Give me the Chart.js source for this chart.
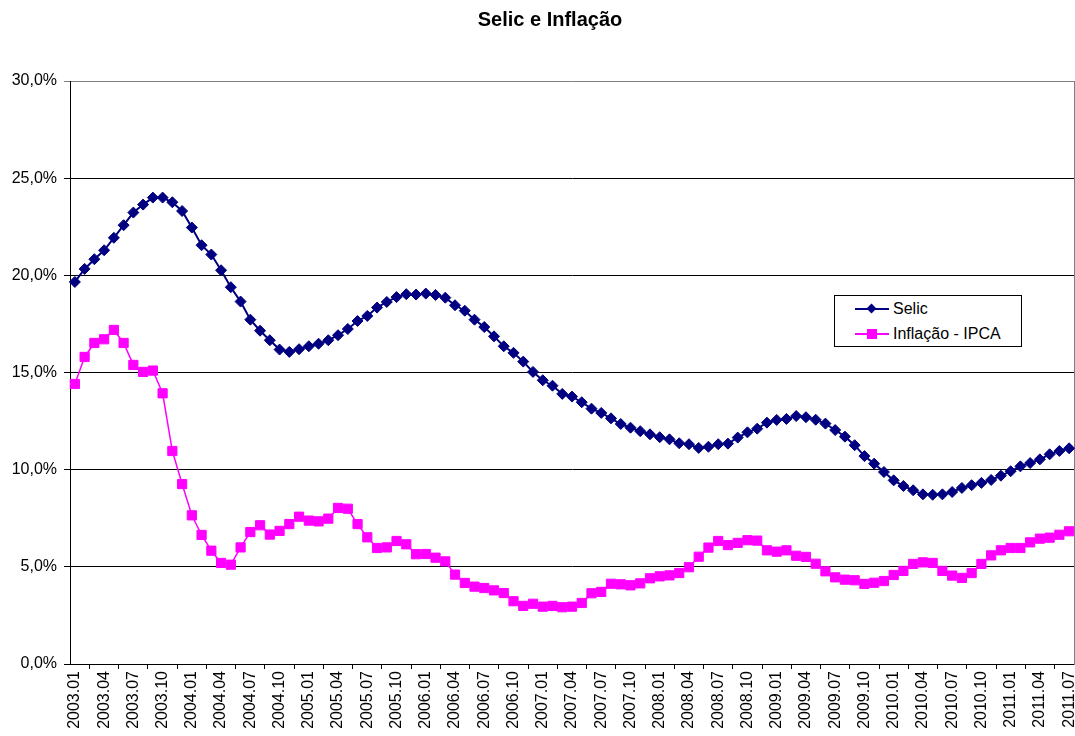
<!DOCTYPE html>
<html>
<head>
<meta charset="utf-8">
<script src="https://cdn.jsdelivr.net/npm/chart.js@4/dist/chart.umd.min.js"></script>
<style>
  html, body { margin: 0; padding: 0; background: #fff; }
  #wrap { position: relative; width: 1075px; height: 736px; overflow: hidden; }
  #c { position: absolute; left: 0; top: 0; }
  #legend {
    position: absolute; left: 834px; top: 295px; width: 186px; height: 50px;
    border: 1px solid #000; background: #fff;
    font-family: "Liberation Sans", Arial, sans-serif; font-size: 16px; color: #000;
  }
  .item { position: absolute; left: 20px; height: 20px; }
  .line { position: absolute; left: 0; width: 34px; top: 9px; height: 2px; }
  .mark { position: absolute; }
  .txt { position: absolute; left: 38px; top: 1px; white-space: nowrap; line-height: 18px; }
</style>
</head>
<body>
<div id="wrap">
  <canvas id="c" width="1085" height="736"></canvas>
  <div id="legend"></div>
</div>
<script>
const startYear = 2003;
const startMonth = 1;
const selic = [
  19.66, 20.33, 20.83, 21.29, 21.93, 22.58, 23.23, 23.64, 24.00, 24.00, 23.76, 23.31,
  22.46, 21.55, 21.07, 20.26, 19.39, 18.65, 17.72, 17.15, 16.66, 16.18, 16.06, 16.20,
  16.35, 16.48, 16.66, 16.92, 17.24, 17.65, 17.91, 18.34, 18.63, 18.88, 19.03, 19.01,
  19.06, 18.99, 18.85, 18.46, 18.18, 17.72, 17.34, 16.86, 16.35, 16.01, 15.56, 15.03,
  14.60, 14.32, 13.90, 13.76, 13.47, 13.14, 12.92, 12.64, 12.35, 12.16, 11.98, 11.82,
  11.67, 11.56, 11.36, 11.31, 11.12, 11.18, 11.31, 11.34, 11.65, 11.92, 12.11, 12.42,
  12.56, 12.61, 12.76, 12.70, 12.57, 12.37, 12.04, 11.70, 11.26, 10.70, 10.31, 9.88,
  9.45, 9.16, 8.94, 8.73, 8.71, 8.73, 8.85, 9.06, 9.20, 9.32, 9.47, 9.69,
  9.92, 10.17, 10.34, 10.53, 10.79, 10.96, 11.10
];
const ipca = [
  14.41, 15.80, 16.52, 16.71, 17.19, 16.52, 15.39, 15.03, 15.10, 13.93, 10.96, 9.26,
  7.65, 6.64, 5.83, 5.20, 5.11, 6.00, 6.79, 7.14, 6.66, 6.85, 7.20, 7.58,
  7.38, 7.34, 7.48, 8.03, 7.99, 7.20, 6.52, 5.97, 6.00, 6.33, 6.16, 5.65,
  5.66, 5.47, 5.28, 4.60, 4.17, 3.98, 3.91, 3.79, 3.65, 3.23, 2.99, 3.10,
  2.95, 2.99, 2.92, 2.95, 3.14, 3.64, 3.71, 4.13, 4.10, 4.05, 4.15, 4.41,
  4.51, 4.56, 4.68, 4.98, 5.52, 5.99, 6.33, 6.12, 6.23, 6.37, 6.35, 5.85,
  5.78, 5.85, 5.57, 5.51, 5.16, 4.77, 4.46, 4.34, 4.31, 4.12, 4.18, 4.27,
  4.58, 4.79, 5.15, 5.23, 5.20, 4.79, 4.55, 4.43, 4.68, 5.15, 5.59, 5.85,
  5.97, 5.97, 6.26, 6.45, 6.50, 6.65, 6.83
];
const seriesNames = ['Selic', 'Inflação - IPCA'];
const yTicks = [0, 5, 10, 15, 20, 25, 30];

const categories = [];
for (let i = 0; i < selic.length; i++) {
  const m = startMonth - 1 + i;
  const y = startYear + Math.floor(m / 12);
  const mm = (m % 12) + 1;
  categories.push(y + '.' + (mm < 10 ? '0' + mm : '' + mm));
}

const FONT = '"Liberation Sans", Arial, sans-serif';
const colors = ['#000080', '#FF00FF'];
const styles = ['rectRot', 'rect'];

const chart = new Chart(document.getElementById('c'), {
  type: 'line',
  data: {
    labels: categories,
    datasets: [
      {
        label: seriesNames[0], data: selic,
        borderColor: colors[0], backgroundColor: colors[0],
        borderWidth: 2, pointStyle: styles[0], pointRadius: 5.5,
        pointBorderWidth: 1, pointBorderColor: colors[0], pointBackgroundColor: colors[0],
        tension: 0, yAxisID: 'y'
      },
      {
        label: seriesNames[1], data: ipca,
        borderColor: colors[1], backgroundColor: colors[1],
        borderWidth: 1.5, pointStyle: styles[1], pointRadius: 6.5,
        pointBorderWidth: 1, pointBorderColor: colors[1], pointBackgroundColor: colors[1],
        tension: 0, yAxisID: 'y'
      }
    ]
  },
  options: {
    responsive: false,
    animation: false,
    events: [],
    layout: { padding: { left: 10, right: -5, top: 0, bottom: 0 } },
    plugins: {
      legend: { display: false },
      tooltip: { enabled: false },
      title: {
        display: true,
        text: 'Selic e Inflação',
        color: '#000',
        font: { family: FONT, size: 20, weight: 'bold' },
        padding: { top: 8, bottom: 49 }
      }
    },
    scales: {
      x: {
        type: 'category',
        offset: true,
        grid: { display: true, drawOnChartArea: false, drawTicks: true, tickLength: 5, color: '#000', offset: true },
        border: { display: true, color: '#000', width: 1 },
        ticks: {
          autoSkip: false, maxRotation: 90, minRotation: 90, padding: 2,
          color: '#000', font: { family: FONT, size: 16 },
          callback: function (v, i) { return i % 3 === 0 ? categories[i] : null; }
        },
        afterFit: function (s) { s.height = 72; s.paddingLeft = 0; s.paddingRight = 0; }
      },
      y: {
        min: 0, max: 30,
        afterBuildTicks: function (s) { s.ticks = yTicks.map(v => ({ value: v })); },
        grid: {
          color: function (ctx) { return ctx.tick && ctx.tick.value === 30 ? '#808080' : '#000'; },
          lineWidth: 1, tickLength: 6, drawTicks: true
        },
        border: { display: true, color: '#000', width: 1 },
        ticks: {
          padding: 7, color: '#000', font: { family: FONT, size: 16 },
          callback: function (v) { return v.toFixed(1).replace('.', ',') + '%'; }
        },
        afterFit: function (s) { s.width = 60; }
      },
      y2: {
        position: 'right', min: 0, max: 30, display: true,
        grid: { drawOnChartArea: false, drawTicks: false },
        border: { display: true, color: '#808080', width: 1 },
        ticks: { display: false },
        afterFit: function (s) { s.width = 16; }
      }
    }
  }
});

// HTML legend built from the chart's datasets
const legend = document.getElementById('legend');
chart.data.datasets.forEach(function (ds, k) {
  const item = document.createElement('div');
  item.className = 'item';
  item.style.top = (3 + k * 25) + 'px';
  const line = document.createElement('div');
  line.className = 'line';
  line.style.background = ds.borderColor;
  item.appendChild(line);
  const mk = document.createElement('div');
  mk.className = 'mark';
  mk.style.background = ds.borderColor;
  if (ds.pointStyle === 'rectRot') {
    mk.style.width = '7px'; mk.style.height = '7px';
    mk.style.left = '13px'; mk.style.top = '6px';
    mk.style.transform = 'rotate(45deg)';
  } else {
    mk.style.width = '10px'; mk.style.height = '10px';
    mk.style.left = '12px'; mk.style.top = '5px';
  }
  item.appendChild(mk);
  const t = document.createElement('div');
  t.className = 'txt';
  t.textContent = ds.label;
  item.appendChild(t);
  legend.appendChild(item);
});
</script>
</body>
</html>
